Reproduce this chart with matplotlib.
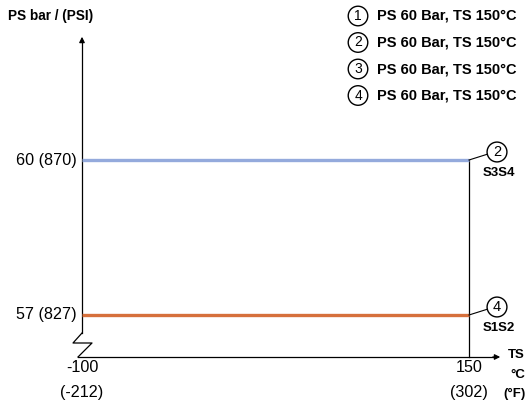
import matplotlib.pyplot as plt

plt.rcParams['font.family'] = ['Liberation Sans', 'DejaVu Sans']

# data
temp_ticks = [-100, 150]
temp_f = ['(-212)', '(302)']
ps_ticks = [60, 57]
ps_psi = ['60 (870)', '57 (827)']
line_colors = ['#94aadc', '#d6703c']
marker_num = ['2', '4']
series_names = ['S3S4', 'S1S2']
legend_items = ['1', '2', '3', '4']
legend_text = ['PS 60 Bar, TS 150°C'] * 4

# pixel -> data scale (x: -100 at px 82, 150 at px 469; y: 60 at px 160, 57 at px 315)
W, H = 528, 403
sx = (469 - 82) / 250.0
sy = (315 - 160) / 3.0
x0 = -100 - 82 / sx
x1 = 150 + (W - 469) / sx
y_top = 60 + 160 / sy
y_bot = 57 - (H - 315) / sy

def px(x):
    return x0 + x / sx

def py(y):
    return y_top - y / sy

fig = plt.figure(figsize=(W / 100, H / 100), dpi=100)
ax = fig.add_axes([0, 0, 1, 1])
ax.set_xlim(x0, x1)
ax.set_ylim(y_bot, y_top)
ax.axis('off')

xmin, xmax = temp_ticks
base = py(357)

# y axis with break
ax.plot([xmin, xmin], [py(333), py(40)], color='black', lw=0.9)
ax.annotate('', xy=(xmin, py(34)), xytext=(xmin, py(45)),
            arrowprops=dict(arrowstyle='-|>', color='black', lw=0.9, mutation_scale=8))
ax.plot([xmin, px(73), px(92), px(78)], [py(333), py(343), py(343), py(357)],
        color='black', lw=0.9)
# x axis
ax.plot([px(78), px(495)], [base, base], color='black', lw=0.9)
ax.annotate('', xy=(px(503), base), xytext=(px(490), base),
            arrowprops=dict(arrowstyle='-|>', color='black', lw=0.9, mutation_scale=8))
# vertical limit line
ax.plot([xmax, xmax], [base, max(ps_ticks)], color='black', lw=0.9)

# lines
for p, c, n, s in zip(ps_ticks, line_colors, marker_num, series_names):
    ax.plot([xmin, xmax], [p, p], color=c, lw=2.4, solid_capstyle='butt')
    ax.plot([xmax, px(488)], [p, p + 6 / sy], color='black', lw=0.8)
    ax.text(px(497), p + 8 / sy, n, ha='center', va='center', fontsize=10.5,
            bbox=dict(boxstyle='circle,pad=0.2', fc='white', ec='black', lw=1.0))
    ax.text(px(483), p - 13 / sy, s, ha='left', va='center', fontsize=9.5, fontweight='bold')

# y tick labels
for p, lab in zip(ps_ticks, ps_psi):
    ax.text(px(77), p, lab, ha='right', va='center', fontsize=11.6)

# x tick labels
for t, f in zip(temp_ticks, temp_f):
    ax.text(t, py(368), str(t), ha='center', va='center', fontsize=11.6)
    ax.text(t, py(392), f, ha='center', va='center', fontsize=11.6)
ax.text(px(508), py(355), 'TS', ha='left', va='center', fontsize=9.5, fontweight='bold')
ax.text(px(510), py(375), '°C', ha='left', va='center', fontsize=9.5, fontweight='bold')
ax.text(px(503), py(394), '(°F)', ha='left', va='center', fontsize=9.5, fontweight='bold')

ax.text(px(8), py(16), 'PS bar / (PSI)', ha='left', va='center', fontsize=9.8, fontweight='bold')

# legend
for i, (k, t) in enumerate(zip(legend_items, legend_text)):
    yy = py(16 + i * 26.5)
    ax.text(px(358), yy, k, ha='center', va='center', fontsize=10,
            bbox=dict(boxstyle='circle,pad=0.2', fc='white', ec='black', lw=1.0))
    ax.text(px(377), yy, t, ha='left', va='center', fontsize=10.5, fontweight='bold')

fig.savefig('out.png', dpi=100)
